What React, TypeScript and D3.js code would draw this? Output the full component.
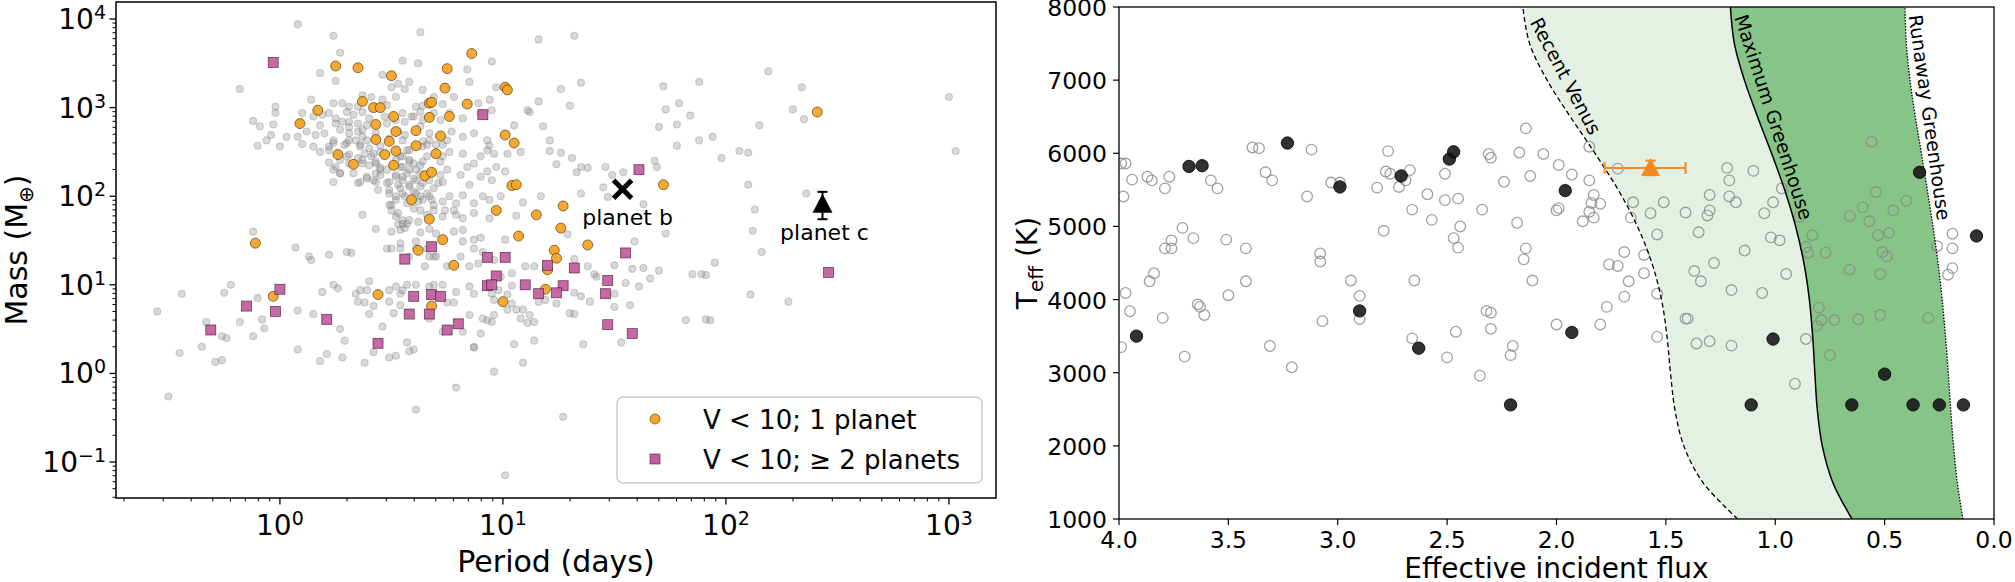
import React from "react";
import * as d3 from "d3";

const FONT = "'DejaVu Sans', 'Liberation Sans', sans-serif";

// ---------------- Left panel: period vs mass (log10 values) ----------------
// [log10 period (days), log10 mass (Earth masses)]
const otherPlanetsLog10: [number, number][] = [
  [0.08,3.94],[0.24,3.81],[0.63,3.85],
  [0.27,3.62],[0.55,3.53],[0.62,3.50],[0.95,3.52],
  [0.18,3.39],[0.25,3.30],[0.46,3.37],[0.50,3.23],[0.53,3.27],[0.58,3.29],[0.84,3.43],[0.85,3.29],[-0.18,3.21],
  [0.37,3.14],[0.41,3.12],[0.46,3.09],[0.52,3.12],[0.56,3.21],[0.64,3.20],[0.69,3.12],[0.78,3.12],[0.73,3.04],[0.89,3.05],[0.94,3.09],[0.97,3.23],[0.24,3.05],[0.28,3.05],[0.31,3.01],[0.14,3.09],[0.35,3.01],[0.48,3.03],[0.61,3.01],[0.64,3.02],
  [-0.02,3.01],[-0.02,2.94],[-0.12,2.85],[-0.09,2.79],[-0.03,2.81],[0.10,2.94],[0.15,2.90],[0.19,2.92],[0.22,2.94],[0.25,2.88],[0.30,2.95],[0.33,2.92],[0.37,2.95],[0.40,2.88],[0.47,2.90],[0.52,2.86],[0.55,2.94],[0.60,2.90],[0.63,2.95],[0.69,2.94],[0.72,2.86],[0.76,2.94],[0.82,2.88],[0.90,2.94],[0.95,2.97],[0.09,2.82],[0.18,2.80],[0.31,2.84],[0.35,2.82],[0.48,2.82],[0.64,2.86],
  [-0.10,2.57],[-0.06,2.63],[-0.04,2.69],[0.00,2.56],[0.03,2.67],[0.08,2.67],[0.12,2.73],[0.16,2.69],[0.20,2.71],[0.24,2.63],[0.27,2.75],[0.31,2.71],[0.35,2.73],[0.39,2.63],[0.43,2.71],[0.49,2.65],[0.53,2.73],[0.56,2.69],[0.64,2.62],[0.67,2.71],[0.75,2.63],[0.77,2.73],[0.82,2.67],[0.87,2.71],[0.93,2.63],[0.94,2.57],[0.10,2.59],[0.15,2.56],[0.22,2.56],[0.30,2.60],[0.36,2.56],[0.45,2.57],[0.66,2.58],[0.70,2.58],
  [0.18,2.50],[0.22,2.52],[0.26,2.48],[0.31,2.47],[0.35,2.43],[0.38,2.48],[0.41,2.45],[0.43,2.37],[0.45,2.50],[0.55,2.45],[0.57,2.52],[0.58,2.41],[0.66,2.45],[0.70,2.48],[0.73,2.45],[0.76,2.50],[0.82,2.48],[0.87,2.37],[0.90,2.45],[0.93,2.52],[0.96,2.48],[0.22,2.38],[0.27,2.41],[0.31,2.37],[0.37,2.37],[0.60,2.37],[0.64,2.39],
  [0.24,2.30],[0.27,2.26],[0.24,2.16],[0.33,2.26],[0.36,2.16],[0.39,2.22],[0.43,2.26],[0.45,2.32],[0.48,2.30],[0.52,2.24],[0.54,2.33],[0.55,2.22],[0.58,2.30],[0.61,2.18],[0.63,2.26],[0.72,2.24],[0.75,2.30],[0.81,2.24],[0.84,2.33],[0.85,2.13],[0.90,2.22],[0.93,2.28],[0.95,2.18],[0.43,2.16],[0.48,2.15],[0.53,2.13],[0.64,2.15],[0.73,2.16],[0.35,2.15],[0.97,2.33],
  [0.44,2.07],[0.49,2.03],[0.52,1.96],[0.54,2.09],[0.56,2.00],[0.60,2.05],[0.63,2.00],[0.66,2.03],[0.68,1.96],[0.73,1.94],[0.76,2.00],[0.79,1.92],[0.82,2.01],[0.87,1.92],[0.91,2.00],[0.94,1.96],[0.58,2.11],[0.62,1.94],[0.49,1.90],[0.69,2.09],
  [0.37,1.79],[0.50,1.84],[0.53,1.81],[0.55,1.73],[0.60,1.86],[0.62,1.71],[0.66,1.79],[0.69,1.84],[0.73,1.77],[0.78,1.84],[0.82,1.75],[0.87,1.81],[0.94,1.75],[0.53,1.68],[0.57,1.69],
  [0.43,1.63],[0.50,1.60],[0.54,1.62],[0.56,1.64],[0.63,1.59],[0.67,1.63],[0.70,1.58],[0.78,1.60],[0.82,1.62],[0.87,1.51],[0.90,1.53],[0.54,1.47],[-0.12,1.60],[0.07,1.42],[0.61,1.49],[0.82,1.49],
  [0.13,1.32],[0.14,1.28],[0.22,1.34],[0.30,1.37],[0.32,1.36],[0.48,1.41],[0.50,1.41],[0.54,1.41],[0.58,1.32],[0.61,1.41],[0.66,1.41],[0.67,1.32],[0.69,1.32],[0.70,1.32],[0.81,1.32],[0.85,1.21],[0.89,1.24],[0.96,1.28],[0.91,1.37],[0.65,1.21],[0.75,1.21],[0.87,1.41],
  [0.40,1.04],[0.24,1.00],[0.19,0.92],[0.26,0.96],[0.34,0.90],[0.36,0.94],[0.39,0.94],[0.49,0.94],[0.52,0.98],[0.54,0.90],[0.55,0.94],[0.57,1.00],[0.61,1.00],[0.67,0.98],[0.69,1.00],[0.73,1.00],[0.79,0.92],[0.85,0.98],[0.87,0.90],[0.95,0.90],[0.98,0.94],[-0.22,1.00],[-0.25,0.91],[-0.44,0.90],[-0.10,0.85],
  // dense hot-Jupiter cluster
  [0.25,2.82],[0.28,2.84],[0.31,2.78],[0.37,2.75],[0.39,2.80],[0.56,2.84],[0.59,2.90],[0.63,2.79],[0.37,2.67],[0.34,2.63],
  [0.24,2.60],[0.29,2.58],[0.31,2.63],[0.36,2.58],[0.40,2.54],[0.42,2.48],[0.55,2.63],[0.58,2.52],[0.54,2.45],[0.64,2.56],
  [0.67,2.63],[0.73,2.58],[0.25,2.33],[0.30,2.45],[0.37,2.41],[0.40,2.35],[0.43,2.39],[0.45,2.30],[0.52,2.41],[0.55,2.33],
  [0.58,2.39],[0.61,2.30],[0.57,2.26],[0.63,2.35],[0.72,2.39],[0.39,2.20],[0.42,2.18],[0.45,2.24],[0.49,2.16],[0.52,2.22],
  [0.55,2.18],[0.58,2.13],[0.60,2.20],[0.63,2.11],[0.67,2.18],[0.71,2.15],[0.27,2.26],[0.49,2.07],[0.52,2.00],[0.55,2.03],
  [0.61,2.03],[0.64,1.96],[0.67,2.00],[0.69,1.90],[0.50,1.90],[0.57,1.92],[0.52,1.77],[0.55,1.69],[0.58,1.73],[0.63,1.84],
  [0.74,1.84],[0.79,1.79],
  [1.16,3.77],[1.32,3.81],[1.35,3.28],[1.26,3.21],[1.16,3.07],[1.30,3.02],[1.11,2.97],[1.12,2.95],[1.05,2.80],[1.18,2.79],[1.02,2.48],[1.08,2.50],[1.21,2.63],[1.21,2.51],[1.26,2.49],[1.31,2.43],[1.24,2.36],[1.35,2.33],[1.38,2.32],[1.33,2.27],[1.46,2.33],[1.49,2.24],[1.54,2.27],[1.01,2.28],[0.99,2.00],[1.09,1.93],[1.17,2.00],[1.35,2.03],[1.06,1.78],[1.45,2.10],[1.47,1.99],[1.63,1.91],
  [1.72,3.24],[1.88,3.29],[1.73,2.98],[1.79,3.05],[1.84,2.91],[1.70,2.78],[1.78,2.81],[1.78,2.57],[1.88,2.63],[1.94,2.67],[1.68,2.40],[1.69,2.33],[1.98,2.43],[2.06,2.51],[2.10,2.49],[2.19,3.41],[2.34,3.23],[2.30,2.98],[2.35,2.87],[2.15,2.80],[2.10,2.13],[2.13,1.85],[2.12,1.61],[2.16,1.37],[1.95,1.25],[2.36,2.03],[3.00,3.12],[3.03,2.51],
  [1.01,1.51],[1.29,1.57],[1.73,1.58],[1.59,1.49],[1.10,1.21],[1.14,1.21],[1.38,1.21],[1.50,1.22],[1.58,1.18],[1.63,1.19],[1.70,1.16],[1.41,1.12],[1.04,1.13],[0.99,1.09],[1.32,1.29],[1.42,1.09],[1.50,0.90],[1.55,1.02],[1.61,0.98],[1.66,1.07],[1.85,1.12],[1.89,1.12],[1.91,1.11],[2.11,0.89],[1.04,0.99],[1.32,0.91],[1.35,0.87],[1.02,0.89],
  [-0.55,0.70],[-0.45,0.23],[-0.35,0.30],[-0.50,-0.26],[-0.33,0.58],[-0.26,0.42],[-0.24,0.40],[-0.29,0.13],[-0.26,0.15],[-0.18,0.58],[-0.08,0.61],[-0.07,0.51],[-0.12,0.42],[0.08,0.71],[0.08,0.27],[0.15,0.67],[0.27,0.50],[0.29,0.37],[0.18,0.14],[0.21,0.22],[0.28,0.18],[0.35,0.81],[0.38,0.80],[0.40,0.67],[0.42,0.76],[0.46,0.53],[0.42,0.24],[0.38,0.12],[0.49,0.81],[0.51,0.68],[0.54,0.77],[0.57,0.35],[0.58,0.25],[0.60,0.27],[0.49,0.18],[0.52,0.20],[0.67,0.62],[0.75,0.80],[0.78,0.80],[0.73,0.47],[0.82,0.47],[0.85,0.66],[0.90,0.45],[0.87,0.30],[0.87,0.29],[0.91,0.62],[0.93,0.60],[0.95,0.58],[0.96,0.83],[0.96,0.66],[0.96,0.02],[0.79,-0.16],[0.61,-0.41],
  [1.02,0.72],[1.06,0.72],[1.09,0.72],[1.04,0.79],[1.08,0.62],[1.11,0.57],[1.14,0.58],[1.12,0.66],[1.16,0.81],[1.19,0.83],[1.24,0.79],[1.30,0.68],[1.32,0.67],[1.39,0.81],[1.50,0.75],[1.57,0.77],[1.05,0.33],[1.14,0.37],[1.09,0.12],[1.36,0.33],[1.53,0.35],[1.82,0.60],[1.91,0.61],[1.93,0.60],[2.28,0.81],[1.27,-0.49],[1.01,-1.15],
];

const singlePlanetBrightLog10: [number, number][] = [
  [0.25,3.47],[0.35,3.45],[0.50,3.36],[0.75,3.44],[0.86,3.61],[0.74,3.22],[0.84,3.04],[0.37,3.07],[0.17,2.97],[0.09,2.82],
  [0.42,3.00],[0.45,3.00],[0.51,2.90],[0.67,3.05],[0.68,3.06],[0.43,2.81],[0.52,2.73],[0.61,2.74],[0.72,2.68],[0.76,2.90],
  [0.67,2.89],[0.43,2.64],[0.49,2.62],[0.61,2.57],[0.52,2.51],[0.47,2.47],[0.70,2.48],[0.26,2.47],[0.33,2.36],[0.51,2.35],
  [0.65,2.23],[0.68,2.27],[0.59,1.96],[0.67,1.74],[0.73,1.51],[0.62,1.39],[0.78,1.22],[0.97,1.84],[-0.11,1.47],[-0.03,0.87],
  [0.44,0.89],[0.68,0.76],[1.01,3.23],[1.02,3.20],[1.01,2.69],[1.05,2.60],[1.04,2.12],[1.06,2.13],[1.72,2.13],[1.15,1.79],
  [1.27,1.89],[1.26,1.64],[1.07,1.55],[1.38,1.45],[1.23,1.39],[1.24,1.30],[1.20,1.17],[1.19,0.95],[2.41,2.95],[1.00,0.81],
];

const multiPlanetBrightLog10: [number, number][] = [
  [-0.03,3.51],[0.91,2.92],[0.68,1.43],[0.56,1.29],[0.93,1.31],[0.97,1.10],[0.93,0.99],[0.95,1.00],[0.00,0.95],[0.60,0.87],
  [0.68,0.89],[0.72,0.87],[-0.15,0.76],[-0.02,0.70],[-0.31,0.49],[0.21,0.61],[0.58,0.67],[0.67,0.67],[0.44,0.34],[0.75,0.49],
  [0.80,0.56],[1.61,2.30],[1.55,1.36],[1.01,1.31],[1.32,1.19],[1.20,1.22],[1.10,1.00],[1.27,0.99],[1.16,0.90],[1.24,0.91],
  [1.47,1.05],[1.46,0.90],[2.46,1.14],[1.47,0.55],[1.58,0.45],
];

const planetB = { period: 34.4, mass: 120, label: "planet b" };
const planetC = { period: 271, mass: 80, massLow: 55, massHigh: 112, label: "planet c" };

const periodMajorTicks = [1, 10, 100, 1000];
const massMajorTicks = [0.1, 1, 10, 100, 1000, 10000];
const legendLabels = ["V < 10; 1 planet", "V < 10; \u2265 2 planets"];

// ---------------- Right panel: effective flux vs Teff ----------------
const hzTeff = [1000, 1500, 2000, 2500, 3000, 3500, 4000, 4500, 5000, 5500, 6000, 6500, 7000, 7500, 8000];
const recentVenusFlux = [1.172, 1.331, 1.418, 1.459, 1.479, 1.495, 1.520, 1.564, 1.630, 1.718, 1.824, 1.937, 2.043, 2.123, 2.154];
const runawayFlux = [0.649, 0.737, 0.785, 0.808, 0.819, 0.829, 0.844, 0.869, 0.907, 0.957, 1.017, 1.081, 1.141, 1.187, 1.205];
const outerFlux = [0.142, 0.168, 0.185, 0.198, 0.209, 0.222, 0.237, 0.256, 0.279, 0.305, 0.332, 0.360, 0.384, 0.401, 0.407];
const zoneLabels = [
  { text: "Recent Venus", flux: 1.957, teff: 7057, angle: 62 },
  { text: "Maximum Greenhouse", flux: 1.006, teff: 6496, angle: 72 },
  { text: "Runaway Greenhouse", flux: 0.293, teff: 6489, angle: 82 },
];

// [effective flux, Teff (K)]
const fieldPlanets: [number, number][] = [
  [3.99,5860],[3.97,5860],[3.98,5410],[3.94,5640],[3.87,5680],[3.85,5630],[3.79,5520],[3.77,5680],[3.71,4980],[3.66,4840],
  [3.76,4810],[3.79,4700],[3.76,4700],[3.84,4360],[3.86,4250],[3.97,4090],[3.58,5630],[3.55,5520],[3.51,4820],[3.42,4700],
  [3.42,4250],[3.50,4060],[3.39,6080],[3.36,6070],[3.33,5740],[3.30,5630],[3.14,5410],[3.12,6050],[3.08,4630],[3.08,4520],
  [3.03,5600],[2.99,5600],[2.94,4260],[2.90,4050],[2.82,5530],[2.79,4940],[2.78,5750],[2.77,6030],[2.76,5720],[2.72,5540],
  [2.69,5630],[2.67,5770],[2.66,5230],[2.65,4260],[2.59,5440],[2.57,5090],[2.51,5720],[2.51,5360],[2.45,5380],[2.44,5000],
  [2.47,4840],[2.45,4710],[2.34,5230],[2.31,5990],[2.30,5940],
  [3.95,3840],[3.80,3750],[3.70,3220],[3.64,3935],[3.63,3900],[3.61,3790],[3.31,3365],[3.21,3075],[3.07,3705],[2.90,3735],
  [2.66,3470],[2.50,3210],[2.46,3560],[2.35,2960],[2.32,3845],[2.30,3820],[2.30,3600],[2.20,3365],[2.21,3240],[3.99,3350],
  [2.14,6340],[2.17,6010],[2.06,5990],[1.99,5840],[1.93,5710],[1.85,6090],[1.85,5630],[2.12,5690],[2.24,5610],[1.83,5430],
  [1.80,5310],[1.84,5320],[1.99,5250],[2.00,5220],[1.85,5200],[1.83,5120],[1.88,5070],[2.18,5050],[2.14,4700],[2.15,4550],
  [2.11,4260],[1.72,5790],[1.65,5330],[1.66,5120],[1.57,5180],[1.51,5330],[1.54,4890],[1.41,5190],[1.35,4920],[1.30,5430],
  [1.30,5220],[1.31,5150],[1.21,5410],[1.18,5330],[1.22,5800],[1.21,5630],[1.10,5760],[1.01,5330],[1.05,5180],[1.02,4850],
  [0.98,4810],[1.14,4670],[1.28,4500],[1.37,4390],[1.34,4250],[1.60,4360],[1.67,4250],[1.60,4610],[1.69,4650],[1.76,4480],
  [1.72,4460],[1.54,4080],[1.20,4130],[1.06,4090],[0.95,4350],[0.97,5520],[0.89,5130],[0.83,4880],[0.86,4720],[0.85,4640],
  [0.77,4640],[0.66,5140],[0.66,4410],[0.60,5260],[0.57,5070],[0.54,5470],[0.56,6160],[0.48,4910],[0.53,4880],[0.46,5220],
  [0.40,5350],[0.51,4650],[0.49,4590],[0.52,4350],[0.19,4900],[0.19,4700],[0.26,4730],[0.19,4430],[0.21,4340],[1.69,4040],
  [1.77,3900],[1.80,3660],[2.00,3660],[1.54,3490],[1.41,3740],[1.40,3740],[1.36,3400],[1.30,3430],[1.20,3370],[0.91,2850],
  [0.86,3460],[0.80,3890],[0.79,3720],[0.73,3720],[0.81,3640],[0.75,3240],[0.62,3730],[0.52,3790],[0.30,3750],
];

const highlightedPlanets: [number, number][] = [
  [3.68,5820],[3.62,5830],[3.23,6140],[2.99,5540],[2.71,5690],[2.49,5920],[2.47,6020],[3.92,3500],[2.90,3845],[2.63,3335],
  [2.21,2560],[1.96,5490],[0.34,5740],[0.08,4870],[1.93,3550],[1.01,3460],[1.11,2560],[0.50,2980],[0.65,2560],[0.37,2560],
  [0.25,2560],[0.14,2560],
];

const target = { flux: 1.57, fluxLow: 1.41, fluxHigh: 1.78, teff: 5800, teffErr: 100 };
const fluxTicks = [4.0, 3.5, 3.0, 2.5, 2.0, 1.5, 1.0, 0.5, 0.0];
const teffTicks = [1000, 2000, 3000, 4000, 5000, 6000, 7000, 8000];

function sup(k: number) {
  return k < 0 ? "\u2212" + String(-k) : String(k);
}

export default function App() {
  const W = 2015, H = 582;

  const L = { left: 116, right: 996, top: 2, bottom: 498 };
  const xP = d3.scaleLog().domain([Math.pow(10, -0.735), Math.pow(10, 3.211)]).range([L.left, L.right]);
  const yM = d3.scaleLog().domain([Math.pow(10, -1.406), Math.pow(10, 4.192)]).range([L.bottom, L.top]);

  const minorP: number[] = [];
  for (let k = -1; k <= 3; k++) for (let m = 2; m <= 9; m++) {
    const v = m * Math.pow(10, k);
    if (v > xP.domain()[0] && v < xP.domain()[1]) minorP.push(v);
  }
  const minorM: number[] = [];
  for (let k = -2; k <= 4; k++) for (let m = 2; m <= 9; m++) {
    const v = m * Math.pow(10, k);
    if (v > yM.domain()[0] && v < yM.domain()[1]) minorM.push(v);
  }

  const R = { left: 1119, right: 1994, top: 7, bottom: 519 };
  const xF = d3.scaleLinear().domain([4, 0]).range([R.left, R.right]);
  const yT = d3.scaleLinear().domain([1000, 8000]).range([R.bottom, R.top]);

  type HZ = { t: number; rv: number; rg: number; om: number };
  const hz: HZ[] = hzTeff.map((t, i) => ({ t, rv: recentVenusFlux[i], rg: runawayFlux[i], om: outerFlux[i] }));
  const curve = d3.curveCatmullRom.alpha(0.5);
  const areaInner = d3.area<HZ>().y((d) => yT(d.t)).x0((d) => xF(d.rv)).x1((d) => xF(d.rg)).curve(curve);
  const areaOuter = d3.area<HZ>().y((d) => yT(d.t)).x0((d) => xF(d.rg)).x1((d) => xF(d.om)).curve(curve);
  const lineOf = (key: "rv" | "rg" | "om") =>
    d3.line<HZ>().x((d) => xF(d[key])).y((d) => yT(d.t)).curve(curve)(hz) || "";

  const gray = "#808080";
  const orange = "#f6a427";
  const purple = "#c2609f";

  const px = (lp: number) => xP(Math.pow(10, lp));
  const py = (lm: number) => yM(Math.pow(10, lm));

  const bx = xP(planetB.period), by = yM(planetB.mass);
  const cx = xP(planetC.period), cy = yM(planetC.mass);
  const tx = xF(target.flux), ty = yT(target.teff);

  return (
    <svg width={W} height={H} style={{ position: "absolute", left: 0, top: 0, background: "#fff" }} fontFamily={FONT}>
      <rect x={0} y={0} width={W} height={H} fill="#fff" />
      <defs>
        <clipPath id="clipL"><rect x={L.left} y={L.top} width={L.right - L.left} height={L.bottom - L.top} /></clipPath>
        <clipPath id="clipR"><rect x={R.left} y={R.top} width={R.right - R.left} height={R.bottom - R.top} /></clipPath>
      </defs>

      {/* ================= LEFT PANEL ================= */}
      <g clipPath="url(#clipL)">
        {otherPlanetsLog10.map((d, i) => (
          <circle key={"g" + i} cx={px(d[0])} cy={py(d[1])} r={3.5} fill={gray} fillOpacity={0.3}
            stroke={gray} strokeOpacity={0.35} strokeWidth={1.1} />
        ))}
        {singlePlanetBrightLog10.map((d, i) => (
          <circle key={"o" + i} cx={px(d[0])} cy={py(d[1])} r={5} fill={orange} fillOpacity={0.95}
            stroke="#4a3200" strokeOpacity={0.8} strokeWidth={0.8} />
        ))}
        {multiPlanetBrightLog10.map((d, i) => (
          <rect key={"p" + i} x={px(d[0]) - 5} y={py(d[1]) - 5} width={10} height={10} fill={purple}
            fillOpacity={0.95} stroke="#3a1030" strokeOpacity={0.7} strokeWidth={0.8} />
        ))}
        <g stroke="#000" strokeWidth={5} strokeLinecap="butt">
          <line x1={bx - 9} y1={by - 9} x2={bx + 9} y2={by + 9} />
          <line x1={bx - 9} y1={by + 9} x2={bx + 9} y2={by - 9} />
        </g>
        <g stroke="#000" strokeWidth={2}>
          <line x1={cx} x2={cx} y1={yM(planetC.massHigh)} y2={yM(planetC.massLow)} />
          <line x1={cx - 5} x2={cx + 5} y1={yM(planetC.massHigh)} y2={yM(planetC.massHigh)} />
          <line x1={cx - 5} x2={cx + 5} y1={yM(planetC.massLow)} y2={yM(planetC.massLow)} />
        </g>
        <path d={`M${cx},${cy - 11} L${cx + 10},${cy + 8} L${cx - 10},${cy + 8} Z`} fill="#000" />
      </g>
      <text x={bx + 5} y={by + 36} fontSize={22} textAnchor="middle" fill="#000">{planetB.label}</text>
      <text x={cx + 2} y={cy + 35} fontSize={22} textAnchor="middle" fill="#000">{planetC.label}</text>

      {/* legend */}
      <rect x={617} y={397} width={365} height={86} rx={6} fill="#fff" fillOpacity={0.85} stroke="#cccccc" strokeWidth={1.5} />
      <circle cx={655} cy={419} r={5} fill={orange} stroke="#4a3200" strokeOpacity={0.8} strokeWidth={0.8} />
      <rect x={650} y={454} width={10} height={10} fill={purple} stroke="#3a1030" strokeOpacity={0.7} strokeWidth={0.8} />
      <text x={703} y={429} fontSize={26} fill="#000">{legendLabels[0]}</text>
      <text x={703} y={469} fontSize={26} fill="#000">{legendLabels[1]}</text>

      <rect x={L.left} y={L.top} width={L.right - L.left} height={L.bottom - L.top} fill="none" stroke="#000" strokeWidth={1.5} />
      {periodMajorTicks.map((v) => (
        <g key={"xp" + v}>
          <line x1={xP(v)} x2={xP(v)} y1={L.bottom} y2={L.bottom + 6.5} stroke="#000" strokeWidth={1.3} />
          <text x={xP(v)} y={L.bottom + 37} fontSize={28} textAnchor="middle" fill="#000">
            10<tspan dy={-10} fontSize={19}>{sup(Math.round(Math.log10(v)))}</tspan>
          </text>
        </g>
      ))}
      {minorP.map((v, i) => (
        <line key={"mp" + i} x1={xP(v)} x2={xP(v)} y1={L.bottom} y2={L.bottom + 3.5} stroke="#000" strokeWidth={1} />
      ))}
      {massMajorTicks.map((v) => (
        <g key={"ym" + v}>
          <line x1={L.left - 6.5} x2={L.left} y1={yM(v)} y2={yM(v)} stroke="#000" strokeWidth={1.3} />
          <text x={L.left - 10} y={yM(v) + 10} fontSize={28} textAnchor="end" fill="#000">
            10<tspan dy={-10} fontSize={19}>{sup(Math.round(Math.log10(v)))}</tspan>
          </text>
        </g>
      ))}
      {minorM.map((v, i) => (
        <line key={"mm" + i} x1={L.left - 3.5} x2={L.left} y1={yM(v)} y2={yM(v)} stroke="#000" strokeWidth={1} />
      ))}
      <text x={(L.left + L.right) / 2} y={572} fontSize={30} textAnchor="middle" fill="#000">Period (days)</text>
      <text transform={`translate(27,${(L.top + L.bottom) / 2}) rotate(-90)`} fontSize={30} textAnchor="middle" fill="#000">
        Mass (M<tspan dy={6} fontSize={20}>{"\u2295"}</tspan><tspan dy={-6}>)</tspan>
      </text>

      {/* ================= RIGHT PANEL ================= */}
      <g clipPath="url(#clipR)">
        <path d={areaInner(hz) || ""} fill="#e3f0e3" />
        <path d={areaOuter(hz) || ""} fill="#87c487" />
        {fieldPlanets.map((d, i) => (
          <circle key={"f" + i} cx={xF(d[0])} cy={yT(d[1])} r={5.3} fill="none" stroke="#8a8a8a" strokeOpacity={0.8} strokeWidth={1.3} />
        ))}
        <path d={lineOf("rv")} fill="none" stroke="#000" strokeWidth={1.3} strokeDasharray="5,3" />
        <path d={lineOf("rg")} fill="none" stroke="#000" strokeWidth={1.5} />
        <path d={lineOf("om")} fill="none" stroke="#000" strokeWidth={1.3} strokeDasharray="1.5,1.5" />
        {highlightedPlanets.map((d, i) => (
          <circle key={"h" + i} cx={xF(d[0])} cy={yT(d[1])} r={6.2} fill="#151515" fillOpacity={0.88} stroke="#000" strokeOpacity={0.8} strokeWidth={1} />
        ))}
        {zoneLabels.map((z) => (
          <text key={z.text} transform={`translate(${xF(z.flux)},${yT(z.teff)}) rotate(${z.angle})`} fontSize={19}
            textAnchor="middle" dominantBaseline="central" fill="#000">{z.text}</text>
        ))}
        <g stroke="#f58a1f" strokeWidth={2}>
          <line x1={xF(target.fluxHigh)} x2={xF(target.fluxLow)} y1={ty} y2={ty} />
          <line x1={xF(target.fluxHigh)} x2={xF(target.fluxHigh)} y1={ty - 6} y2={ty + 6} />
          <line x1={xF(target.fluxLow)} x2={xF(target.fluxLow)} y1={ty - 6} y2={ty + 6} />
          <line x1={tx} x2={tx} y1={yT(target.teff + target.teffErr)} y2={yT(target.teff - target.teffErr)} />
          <line x1={tx - 5} x2={tx + 5} y1={yT(target.teff + target.teffErr)} y2={yT(target.teff + target.teffErr)} />
          <line x1={tx - 5} x2={tx + 5} y1={yT(target.teff - target.teffErr)} y2={yT(target.teff - target.teffErr)} />
        </g>
        <path d={`M${tx},${ty - 10} L${tx + 9.5},${ty + 8} L${tx - 9.5},${ty + 8} Z`} fill="#f58a1f" />
      </g>

      <rect x={R.left} y={R.top} width={R.right - R.left} height={R.bottom - R.top} fill="none" stroke="#000" strokeWidth={1.3} />
      {fluxTicks.map((v) => (
        <g key={"xf" + v}>
          <line x1={xF(v)} x2={xF(v)} y1={R.bottom} y2={R.bottom + 6} stroke="#000" strokeWidth={1.2} />
          <text x={xF(v)} y={548} fontSize={23.5} textAnchor="middle" fill="#000">{v.toFixed(1)}</text>
        </g>
      ))}
      {teffTicks.map((v) => (
        <g key={"yt" + v}>
          <line x1={R.left - 6} x2={R.left} y1={yT(v)} y2={yT(v)} stroke="#000" strokeWidth={1.2} />
          <text x={R.left - 12} y={yT(v) + 9} fontSize={23.5} textAnchor="end" fill="#000">{v}</text>
        </g>
      ))}
      <text x={(R.left + R.right) / 2} y={578} fontSize={28} textAnchor="middle" fill="#000">Effective incident flux</text>
      <text transform={`translate(1037,${(R.top + R.bottom) / 2}) rotate(-90)`} fontSize={28} textAnchor="middle" fill="#000">
        T<tspan dy={6} fontSize={20}>eff</tspan><tspan dy={-6}> (K)</tspan>
      </text>
    </svg>
  );
}
